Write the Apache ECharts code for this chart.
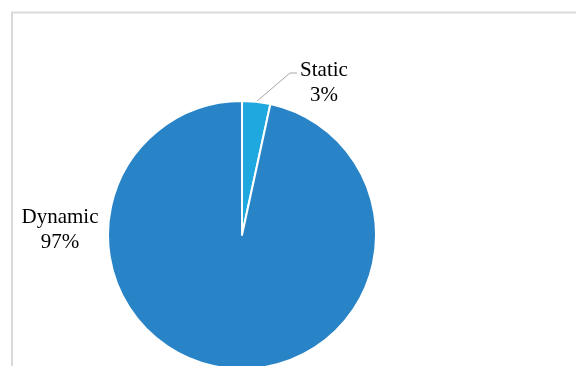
<!DOCTYPE html>
<html>
<head>
<meta charset="utf-8">
<script src="https://cdn.jsdelivr.net/npm/echarts@6/dist/echarts.min.js"></script>
<style>html,body{margin:0;padding:0;background:#fff;}#c{width:576px;height:366px;}</style>
</head>
<body>
<div id="c"></div>
<script>
const categories = ['Static', 'Dynamic'];
const values = [3.4, 96.6];
const colors = ['#1fa8e0', '#2884c6'];

const chart = echarts.init(document.getElementById('c'), null, {renderer: 'canvas'});
chart.setOption({
  animation: false,
  backgroundColor: '#ffffff',
  graphic: [{
    type: 'rect',
    shape: {x: 12, y: 12.5, width: 700, height: 500},
    style: {fill: 'none', stroke: '#d9d9d9', lineWidth: 2},
    silent: true
  }],
  series: [{
    type: 'pie',
    center: [242, 235],
    radius: 134,
    startAngle: 90,
    clockwise: true,
    percentPrecision: 0,
    data: categories.map((c, i) => ({name: c, value: values[i], itemStyle: {color: colors[i]}})),
    itemStyle: {borderColor: '#ffffff', borderWidth: 2},
    label: {
      show: true,
      position: 'outside',
      formatter: '{b}\n{d}%',
      fontFamily: 'Liberation Serif',
      fontSize: 21,
      lineHeight: 25,
      color: '#000',
      align: 'center'
    },
    labelLine: {show: true, lineStyle: {color: '#a6a6a6', width: 1}},
    labelLayout: function (params) {
      if (params.dataIndex === 0) {
        const p0 = params.labelLinePoints ? params.labelLinePoints[0] : [256, 103];
        return {
          x: 324, y: 83, align: 'center', verticalAlign: 'middle',
          labelLinePoints: [p0, [290, 73], [297, 73]]
        };
      }
      return {x: 60, y: 230, align: 'center', verticalAlign: 'middle', labelLinePoints: [[0,0],[0,0],[0,0]]};
    },
    emphasis: {disabled: true}
  }]
});
</script>
</body>
</html>
